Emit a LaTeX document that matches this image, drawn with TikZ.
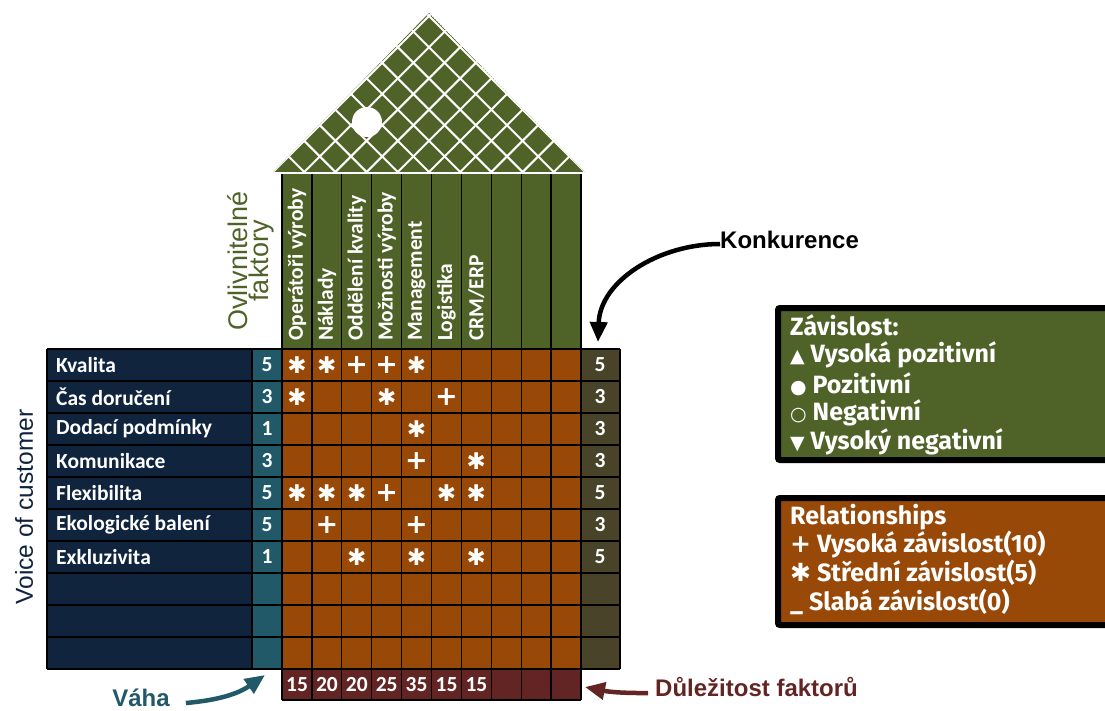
\documentclass[tikz,border=0pt]{standalone}
\usepackage{fontspec}
\setmainfont{Carlito}
\newfontfamily\arialfont{Liberation Sans}
\newfontfamily\dejafont{DejaVu Sans}
\newfontfamily\firafont{Fira Sans}
\usetikzlibrary{positioning, arrows.meta}
\definecolor{roofgreen}{HTML}{4F6228}
\definecolor{matrixbrown}{HTML}{984807}
\definecolor{voicenavy}{HTML}{10243E}
\definecolor{weightteal}{HTML}{215968}
\definecolor{compolive}{HTML}{494429}
\definecolor{importred}{HTML}{632523}

\begin{document}
\begin{tikzpicture}[x=1pt, y=-1pt,
    cell/.style={text=white, font=\bfseries\fontsize{21.5}{21.5}\selectfont, inner sep=0pt},
    head/.style={cell, rotate=90, anchor=west},
    star/.style={text=white, font=\dejafont\fontsize{23}{23}\selectfont, inner sep=0pt},
    cross/.style={text=white, font=\dejafont\bfseries\fontsize{27}{27}\selectfont, inner sep=0pt},
    gridline/.style={black, line width=1.3pt},
    legend/.style={anchor=west, text=white, font=\firafont\bfseries\fontsize{25}{25}\selectfont, inner sep=0pt},
    callout/.style={font=\arialfont\bfseries\fontsize{24}{24}\selectfont, inner sep=0pt},
    bigarrow/.style={line width=4.5pt, -{Triangle[length=20pt,width=17pt]}}
    ]
\useasboundingbox (0,0) rectangle (1105,711);
\clip (0,0) rectangle (1105,711);

% strecha
\begin{scope}
\clip (273,172) -- (429,13) -- (585,172) -- cycle;
\fill[roofgreen] (273,172) -- (429,13) -- (585,172) -- cycle;
\foreach \k in {-5,...,5} {
  \draw[white, line width=2pt] ({429+31.2*\k},172) -- ++(200,-200);
  \draw[white, line width=2pt] ({429+31.2*\k},172) -- ++(-200,-200);
}
\end{scope}
\fill[white] (367,122) circle[radius=15pt];

\fill[roofgreen] (282,174) rectangle (581,349);
\fill[voicenavy] (47,349) rectangle (252,669);
\fill[weightteal] (252,349) rectangle (282,669);
\fill[matrixbrown] (282,349) rectangle (581,669);
\fill[compolive] (581,349) rectangle (620,669);
\fill[importred] (282,669) rectangle (581,700);
\foreach \j in {0,...,10}
  \draw[gridline] (47,{349+32*\j}) -- (620,{349+32*\j});
\foreach \i in {0,...,10}
  \draw[gridline] ({282+29.9*\i},174) -- ({282+29.9*\i},700);
\draw[gridline] (47,349) -- (47,669);
\draw[gridline] (252,349) -- (252,669);
\draw[gridline] (620,349) -- (620,669);
\draw[gridline] (282,700) -- (581,700);

\node[head] (h1) at (297.0,341) {Operátoři výroby};
\node[head] (h2) at (326.9,341) {Náklady};
\node[head] (h3) at (356.8,341) {Oddělení kvality};
\node[head] (h4) at (386.7,341) {Možnosti výroby};
\node[head] (h5) at (416.6,341) {Management};
\node[head] (h6) at (446.5,341) {Logistika};
\node[head] (h7) at (476.4,341) {CRM/ERP};

\node[cell, anchor=west] (r1) at (56,365) {Kvalita};
\node[cell, anchor=west] (r2) at (56,397) {Čas doručení};
\node[cell, anchor=west] (r3) at (56,429) {Dodací podmínky};
\node[cell, anchor=west] (r4) at (56,461) {Komunikace};
\node[cell, anchor=west] (r5) at (56,493) {Flexibilita};
\node[cell, anchor=west] (r6) at (56,525) {Ekologické balení};
\node[cell, anchor=west] (r7) at (56,557) {Exkluzivita};

\node[cell] (w1) at (267,365) {5};
\node[cell] (w2) at (267,397) {3};
\node[cell] (w3) at (267,429) {1};
\node[cell] (w4) at (267,461) {3};
\node[cell] (w5) at (267,493) {5};
\node[cell] (w6) at (267,525) {5};
\node[cell] (w7) at (267,557) {1};

\node[cell] (k1) at (600,365) {5};
\node[cell] (k2) at (600,397) {3};
\node[cell] (k3) at (600,429) {3};
\node[cell] (k4) at (600,461) {3};
\node[cell] (k5) at (600,493) {5};
\node[cell] (k6) at (600,525) {3};
\node[cell] (k7) at (600,557) {5};

\node[cell] (d1) at (297.0,685) {15};
\node[cell] (d2) at (326.9,685) {20};
\node[cell] (d3) at (356.8,685) {20};
\node[cell] (d4) at (386.7,685) {25};
\node[cell] (d5) at (416.6,685) {35};
\node[cell] (d6) at (446.5,685) {15};
\node[cell] (d7) at (476.4,685) {15};

\foreach \c/\r in {1/1,2/1,5/1,1/2,4/2,5/3,7/4,1/5,2/5,3/5,6/5,7/5,3/7,5/7,7/7}
  \node[star] (s\c\r) at ({282+29.9*\c-14.95},{349+32*\r-16}) {✱};
\foreach \c/\r in {3/1,4/1,6/2,5/4,4/5,2/6,5/6}
  \node[cross] (p\c\r) at ({282+29.9*\c-14.95},{349+32*\r-16}) {+};

\node[rotate=90, font=\arialfont\fontsize{24.5}{24.5}\selectfont, text=voicenavy] (voc) at (24,507) {Voice of customer};
\node[rotate=90, align=center, font=\arialfont\fontsize{27}{21}\selectfont, text=roofgreen] (ovl) at (251,261) {Ovlivnitelné\\faktory};

\draw[black, line width=6pt, fill=roofgreen, rounded corners=2pt] (778,308) rectangle (1120,460);
\node[legend] (zav) at (790,325) {Závislost:};
\node[legend] (zav1) at (790,355) {{\dejafont\fontsize{19}{19}\selectfont ▲} Vysoká pozitivní};
\node[legend] (zav2) at (790,384) {{\dejafont\fontsize{19}{19}\selectfont ●} Pozitivní};
\node[legend] (zav3) at (790,413) {{\dejafont\mdseries\fontsize{19}{19}\selectfont ○} Negativní};
\node[legend] (zav4) at (790,442) {{\dejafont\fontsize{19}{19}\selectfont ▼} Vysoký negativní};

\draw[black, line width=6pt, fill=matrixbrown, rounded corners=2pt] (778,498) rectangle (1120,625);
\node[legend] (rel) at (790,517) {Relationships};
\node[legend] (rel1) at (790,545) {{\dejafont +} Vysoká závislost(10)};
\node[legend] (rel2) at (790,573) {{\dejafont\mdseries ✱} Střední závislost(5)};
\node[legend] (rel3) at (790,602) {\_ Slabá závislost(0)};

\node[callout, anchor=west] (konk) at (720,240) {Konkurence};
\coordinate (konk tip) at (598,342);
\draw[bigarrow] ([yshift=-4pt]konk.west) to[out=180, in=88] (konk tip);

\node[callout, text=weightteal] (vaha) at (141,698) {Váha};
\coordinate (vaha tip) at (265,675);
\draw[bigarrow, weightteal] ([xshift=16pt, yshift=-5pt]vaha.east) to[out=5, in=215] (vaha tip);

\node[callout, anchor=west, text=importred] (dul) at (655,687) {Důležitost faktorů};
\coordinate (dul tip) at (585,687);
\draw[bigarrow, importred] ([xshift=-7pt, yshift=-6pt]dul.west) to[bend left=6] (dul tip);
\end{tikzpicture}
\end{document}
